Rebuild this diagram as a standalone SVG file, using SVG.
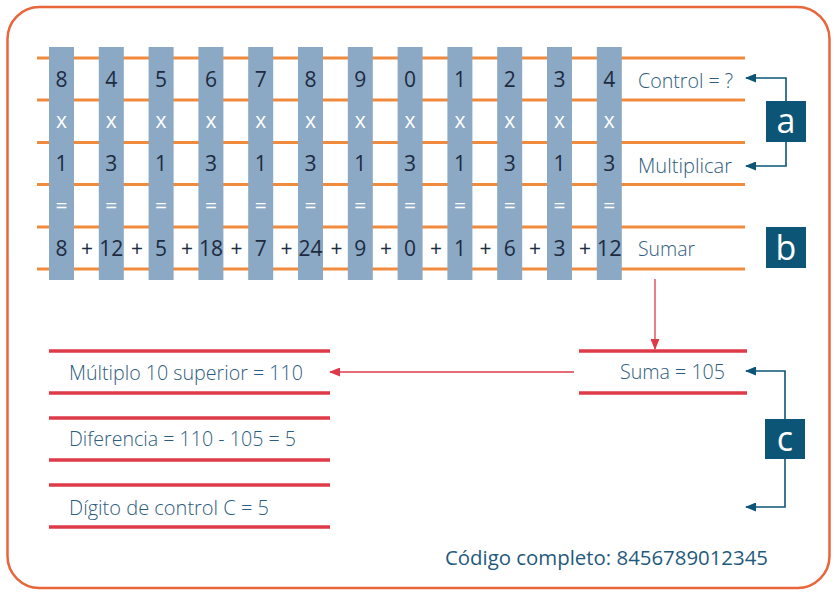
<svg xmlns="http://www.w3.org/2000/svg" width="838" height="593" viewBox="0 0 838 593">
<style>
.ol{stroke:#f08a3c;stroke-width:3;fill:none}
.rl{stroke:#de3a48;stroke-width:3.5;fill:none}
.col{fill:#8ba8c5}
.d{font-family:"Open Sans","Liberation Sans",Arial,sans-serif;font-weight:400;font-size:21px;fill:#1c2b40;text-anchor:middle}
.w{font-family:"Open Sans","Liberation Sans",Arial,sans-serif;font-size:21px;fill:#ffffff;text-anchor:middle}
.lbl{font-family:"Open Sans","Liberation Sans",Arial,sans-serif;font-weight:300;font-size:20px;fill:#2e5c7e}
.box{fill:#0d5577}
.bl{font-family:"Open Sans","Liberation Sans",Arial,sans-serif;font-size:34px;fill:#ffffff;text-anchor:middle}
.tc{stroke:#0d5577;stroke-width:1.6;fill:none}
.rc{stroke:#de3a48;stroke-width:1.3;fill:none}
</style>
<defs>
<marker id="at" markerUnits="userSpaceOnUse" markerWidth="11" markerHeight="9" refX="10" refY="4.5" orient="auto">
<path d="M0,0 L11,4.5 L0,9 z" fill="#0d5577"/>
</marker>
<marker id="ar" markerUnits="userSpaceOnUse" markerWidth="11" markerHeight="9" refX="10" refY="4.5" orient="auto">
<path d="M0,0 L11,4.5 L0,9 z" fill="#de3a48"/>
</marker>
</defs>
<rect x="7.5" y="7" width="822" height="581" rx="32" fill="#ffffff" stroke="#e8663a" stroke-width="2.5"/>
<g id="grid-lines">
<line class="ol" x1="37" y1="58" x2="745" y2="58"/>
<line class="ol" x1="37" y1="100" x2="745" y2="100"/>
<line class="ol" x1="37" y1="142.5" x2="745" y2="142.5"/>
<line class="ol" x1="37" y1="184.5" x2="745" y2="184.5"/>
<line class="ol" x1="37" y1="227" x2="745" y2="227"/>
<line class="ol" x1="37" y1="269" x2="745" y2="269"/>
</g>
<g id="col-0"><rect class="col" x="49" y="47" width="25" height="233"/><text class="d" x="61.5" y="87">8</text><text class="w" x="61.5" y="128">x</text><text class="d" x="61.5" y="171">1</text><text class="w" x="61.5" y="213">=</text><text class="d" x="61.5" y="256">8</text></g>
<g id="col-1"><rect class="col" x="98.8" y="47" width="25" height="233"/><text class="d" x="111.3" y="87">4</text><text class="w" x="111.3" y="128">x</text><text class="d" x="111.3" y="171">3</text><text class="w" x="111.3" y="213">=</text><text class="d" x="111.3" y="256">12</text></g>
<g id="col-2"><rect class="col" x="148.6" y="47" width="25" height="233"/><text class="d" x="161.1" y="87">5</text><text class="w" x="161.1" y="128">x</text><text class="d" x="161.1" y="171">1</text><text class="w" x="161.1" y="213">=</text><text class="d" x="161.1" y="256">5</text></g>
<g id="col-3"><rect class="col" x="198.4" y="47" width="25" height="233"/><text class="d" x="210.9" y="87">6</text><text class="w" x="210.9" y="128">x</text><text class="d" x="210.9" y="171">3</text><text class="w" x="210.9" y="213">=</text><text class="d" x="210.9" y="256">18</text></g>
<g id="col-4"><rect class="col" x="248.2" y="47" width="25" height="233"/><text class="d" x="260.7" y="87">7</text><text class="w" x="260.7" y="128">x</text><text class="d" x="260.7" y="171">1</text><text class="w" x="260.7" y="213">=</text><text class="d" x="260.7" y="256">7</text></g>
<g id="col-5"><rect class="col" x="298" y="47" width="25" height="233"/><text class="d" x="310.5" y="87">8</text><text class="w" x="310.5" y="128">x</text><text class="d" x="310.5" y="171">3</text><text class="w" x="310.5" y="213">=</text><text class="d" x="310.5" y="256">24</text></g>
<g id="col-6"><rect class="col" x="347.8" y="47" width="25" height="233"/><text class="d" x="360.3" y="87">9</text><text class="w" x="360.3" y="128">x</text><text class="d" x="360.3" y="171">1</text><text class="w" x="360.3" y="213">=</text><text class="d" x="360.3" y="256">9</text></g>
<g id="col-7"><rect class="col" x="397.6" y="47" width="25" height="233"/><text class="d" x="410.1" y="87">0</text><text class="w" x="410.1" y="128">x</text><text class="d" x="410.1" y="171">3</text><text class="w" x="410.1" y="213">=</text><text class="d" x="410.1" y="256">0</text></g>
<g id="col-8"><rect class="col" x="447.4" y="47" width="25" height="233"/><text class="d" x="459.9" y="87">1</text><text class="w" x="459.9" y="128">x</text><text class="d" x="459.9" y="171">1</text><text class="w" x="459.9" y="213">=</text><text class="d" x="459.9" y="256">1</text></g>
<g id="col-9"><rect class="col" x="497.2" y="47" width="25" height="233"/><text class="d" x="509.7" y="87">2</text><text class="w" x="509.7" y="128">x</text><text class="d" x="509.7" y="171">3</text><text class="w" x="509.7" y="213">=</text><text class="d" x="509.7" y="256">6</text></g>
<g id="col-10"><rect class="col" x="547" y="47" width="25" height="233"/><text class="d" x="559.5" y="87">3</text><text class="w" x="559.5" y="128">x</text><text class="d" x="559.5" y="171">1</text><text class="w" x="559.5" y="213">=</text><text class="d" x="559.5" y="256">3</text></g>
<g id="col-11"><rect class="col" x="596.8" y="47" width="25" height="233"/><text class="d" x="609.3" y="87">4</text><text class="w" x="609.3" y="128">x</text><text class="d" x="609.3" y="171">3</text><text class="w" x="609.3" y="213">=</text><text class="d" x="609.3" y="256" textLength="25" lengthAdjust="spacingAndGlyphs">12</text></g>
<g id="plus-signs">
<text class="d" x="87" y="256">+</text><text class="d" x="137" y="256">+</text><text class="d" x="187" y="256">+</text><text class="d" x="236.5" y="256">+</text><text class="d" x="286.5" y="256">+</text><text class="d" x="336.5" y="256">+</text><text class="d" x="386" y="256">+</text><text class="d" x="436" y="256">+</text><text class="d" x="485.5" y="256">+</text><text class="d" x="535" y="256">+</text><text class="d" x="585" y="256">+</text>
</g>
<g id="label-control"><text class="lbl" x="638" y="88" textLength="95" lengthAdjust="spacingAndGlyphs">Control = ?</text></g>
<g id="label-multiplicar"><text class="lbl" x="638" y="173" textLength="94" lengthAdjust="spacingAndGlyphs">Multiplicar</text></g>
<g id="label-sumar"><text class="lbl" x="638" y="256" textLength="57" lengthAdjust="spacingAndGlyphs">Sumar</text></g>
<g id="box-a"><rect class="box" x="766" y="101" width="40" height="41"/><text class="bl" x="786" y="133">a</text></g>
<g id="box-b"><rect class="box" x="766" y="227" width="40" height="41"/><text class="bl" x="786" y="260">b</text></g>
<g id="box-c"><rect class="box" x="765" y="419" width="40" height="40"/><text class="bl" x="785" y="451">c</text></g>
<g id="suma">
<line class="rl" x1="579" y1="351" x2="747" y2="351"/>
<line class="rl" x1="579" y1="393" x2="747" y2="393"/>
<text class="lbl" x="620" y="379" textLength="105" lengthAdjust="spacingAndGlyphs">Suma = 105</text>
</g>
<g id="multiplo">
<line class="rl" x1="49" y1="351" x2="330" y2="351"/>
<line class="rl" x1="49" y1="393" x2="330" y2="393"/>
<text class="lbl" x="69" y="380" textLength="234" lengthAdjust="spacingAndGlyphs">Múltiplo 10 superior = 110</text>
</g>
<g id="diferencia">
<line class="rl" x1="49" y1="418" x2="330" y2="418"/>
<line class="rl" x1="49" y1="460" x2="330" y2="460"/>
<text class="lbl" x="69" y="446" textLength="227" lengthAdjust="spacingAndGlyphs">Diferencia = 110 - 105 = 5</text>
</g>
<g id="digito">
<line class="rl" x1="49" y1="485" x2="330" y2="485"/>
<line class="rl" x1="49" y1="527" x2="330" y2="527"/>
<text class="lbl" x="69" y="515" textLength="200" lengthAdjust="spacingAndGlyphs">Dígito de control C = 5</text>
</g>
<g id="codigo"><text x="445" y="565" font-family="'Open Sans','Liberation Sans',Arial,sans-serif" font-size="20" fill="#1f5a7d" textLength="323" lengthAdjust="spacingAndGlyphs">Código completo: 8456789012345</text></g>
<g id="connectors">
<polyline class="tc" points="786,101 786,78 746,78" marker-end="url(#at)"/>
<polyline class="tc" points="786,142 786,166 746,166" marker-end="url(#at)"/>
<polyline class="tc" points="785,419 785,371 746,371" marker-end="url(#at)"/>
<polyline class="tc" points="785,459 785,507 746,507" marker-end="url(#at)"/>
<line class="rc" x1="655" y1="279" x2="655" y2="349" marker-end="url(#ar)"/>
<line class="rc" x1="574" y1="372" x2="330" y2="372" marker-end="url(#ar)"/>
</g>
</svg>
